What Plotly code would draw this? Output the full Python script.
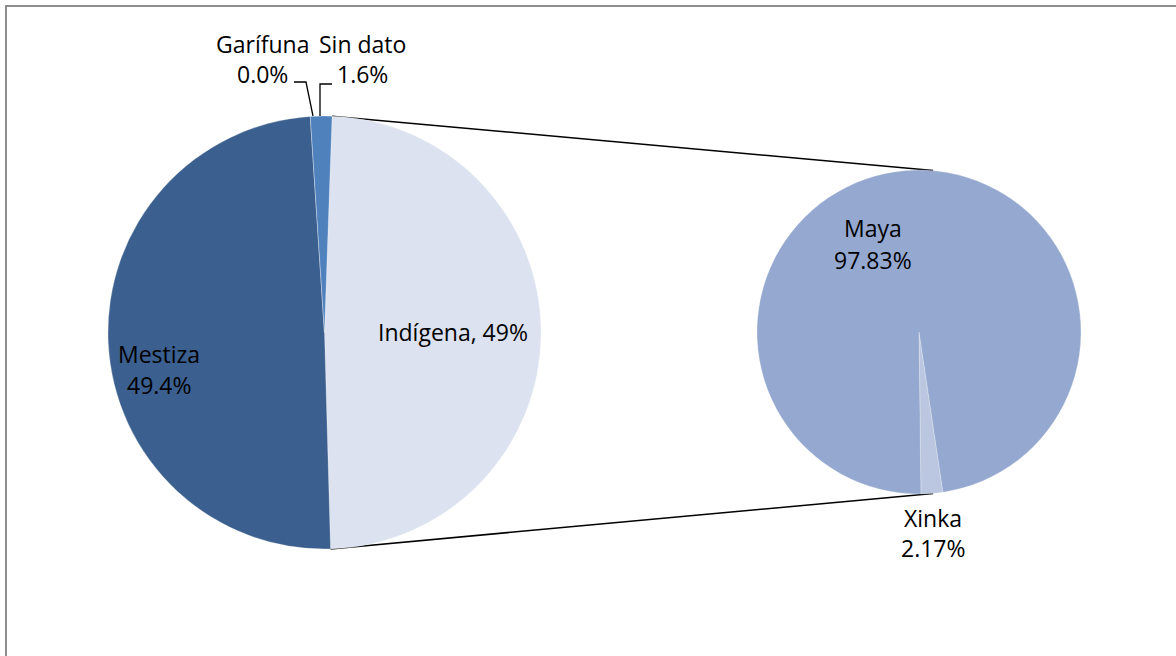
import math
import plotly.graph_objects as go

# ---------------- data ----------------
main_labels = ["Indígena", "Mestiza", "Garífuna", "Sin dato"]
main_values = [49.0, 49.4, 0.0, 1.6]
main_colors = ["#DCE2EF", "#3B5F8E", "#3E6DA8", "#4F81BD"]

sub_labels = ["Xinka", "Maya"]
sub_values = [2.17, 97.83]
sub_colors = ["#BBC7E0", "#95A9D0"]

W, H = 1176, 656
FONT = "Open Sans"
FS = 23

# pie geometry (pixels)
L_CX, L_CY, L_R = 324.5, 332.5, 216.5
R_CX, R_CY, R_R = 919.0, 332.0, 162.0
L_ROT = 2.0
R_ROT = 171.5


def px(x):
    return x / W


def py(y):
    return 1 - y / H


def dom(cx, cy, r):
    return dict(x=[px(cx - r), px(cx + r)], y=[py(cy + r), py(cy - r)])


fig = go.Figure()
fig.add_trace(go.Pie(
    labels=main_labels, values=main_values, sort=False, direction="clockwise",
    rotation=L_ROT, textinfo="none", hoverinfo="label+percent",
    marker=dict(colors=main_colors, line=dict(color="rgba(255,255,255,0.4)", width=0.6)),
    domain=dom(L_CX, L_CY, L_R), showlegend=False,
))
fig.add_trace(go.Pie(
    labels=sub_labels, values=sub_values, sort=False, direction="clockwise",
    rotation=R_ROT, textinfo="none", hoverinfo="label+percent",
    marker=dict(colors=sub_colors, line=dict(color="rgba(255,255,255,0.4)", width=0.6)),
    domain=dom(R_CX, R_CY, R_R), showlegend=False,
))

# connector lines from the Indígena slice edges to the secondary pie
tot = sum(main_values)
a0 = math.radians(L_ROT)
a1 = math.radians(L_ROT + 360 * main_values[0] / tot)
p_top = (L_CX + L_R * math.sin(a0), L_CY - L_R * math.cos(a0))
p_bot = (L_CX + L_R * math.sin(a1), L_CY - L_R * math.cos(a1))
b = math.radians(5)
q_top = (R_CX + R_R * math.sin(b), R_CY - R_R * math.cos(b))
q_bot = (R_CX + R_R * math.sin(b), R_CY + R_R * math.cos(b))

shapes = []
for p, q in [(p_top, q_top), (p_bot, q_bot)]:
    shapes.append(dict(type="line", xref="paper", yref="paper", layer="below",
                       x0=px(p[0]), y0=py(p[1]), x1=px(q[0]), y1=py(q[1]),
                       line=dict(color="black", width=1.5)))


def path(points):
    return "M " + " L ".join(f"{px(x)},{py(y)}" for x, y in points)


# leader lines for the small slices
shapes.append(dict(type="path", xref="paper", yref="paper",
                   path=path([(294, 82), (306, 82), (313, 116)]),
                   line=dict(color="black", width=1.3)))
shapes.append(dict(type="path", xref="paper", yref="paper",
                   path=path([(332, 84), (320, 84), (320, 116)]),
                   line=dict(color="black", width=1.3)))

# frame
shapes.append(dict(type="path", xref="paper", yref="paper",
                   path=path([(6, H + 2), (6, 6), (W + 2, 6)]),
                   line=dict(color="#8E8E8E", width=2)))

fig.update_layout(shapes=shapes)


def fmt(v, d):
    return f"{v:.{d}f}%"


labels = [
    (main_labels[2], 262, 44), (fmt(main_values[2], 1), 262, 74),
    (main_labels[3], 362, 44), (fmt(main_values[3], 1), 362, 74),
    (main_labels[1], 159, 354), (fmt(main_values[1], 1), 159, 385),
    (f"{main_labels[0]}, {main_values[0]:.0f}%", 453, 332),
    (sub_labels[1], 873, 228), (fmt(sub_values[1], 2), 873, 260),
    (sub_labels[0], 933, 518), (fmt(sub_values[0], 2), 933, 548),
]
for t, x, y in labels:
    fig.add_annotation(text=t, x=px(x), y=py(y), xref="paper", yref="paper",
                       showarrow=False, xanchor="center", yanchor="middle",
                       font=dict(family=FONT, size=FS, color="black"))

fig.update_layout(
    width=W, height=H, margin=dict(l=0, r=0, t=0, b=0),
    paper_bgcolor="white", plot_bgcolor="white",
)

fig.write_html("out.html", config={"displayModeBar": False},
               post_script="document.body.style.margin='0';document.body.style.overflow='hidden';")
